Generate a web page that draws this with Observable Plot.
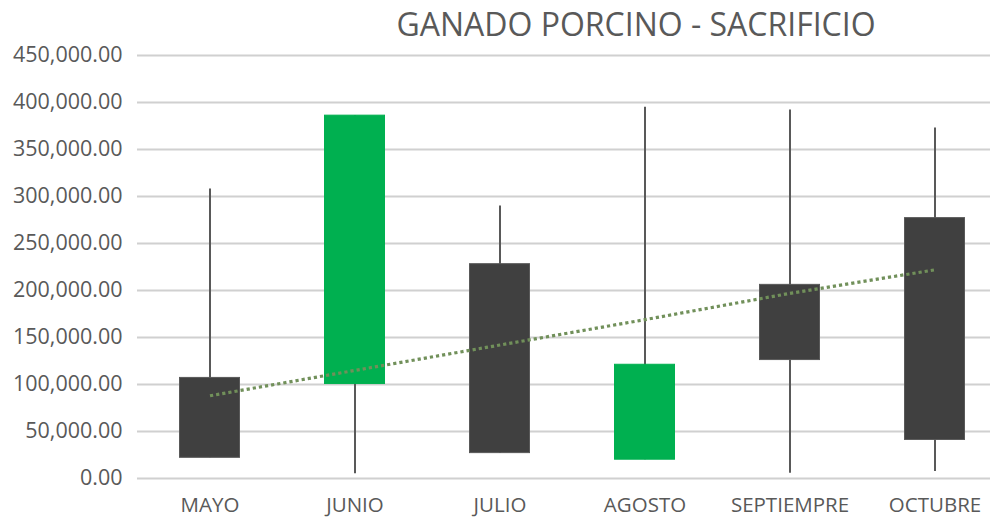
<!DOCTYPE html>
<html>
<head>
<meta charset="utf-8">
<script src="https://cdn.jsdelivr.net/npm/d3@7"></script>
<script src="https://cdn.jsdelivr.net/npm/@observablehq/plot@0.6"></script>
<style>
  html, body { margin: 0; padding: 0; background: #fff; overflow: hidden; }
  #title { width: 992px; height: 40px; box-sizing: border-box; padding-left: 280px; padding-top: 8px;
           text-align: center; font-family: "Open Sans", sans-serif; font-size: 32px; line-height: 1; color: #595959; white-space: nowrap; }
  #chart svg { display: block; }
</style>
</head>
<body>
<div id="title">GANADO PORCINO - SACRIFICIO</div>
<div id="chart"></div>
<script>
const months = ["MAYO", "JUNIO", "JULIO", "AGOSTO", "SEPTIEMPRE", "OCTUBRE"];
const openV  = [107000, 100500, 228000, 20000, 206000, 277000];
const closeV = [22000, 386000, 27000, 121000, 126000, 41000];
const highV  = [308000, 386000, 290000, 395000, 392000, 373000];
const lowV   = [22000, 5000, 26500, 20000, 5500, 7500];
const trendV = [88000, 115000, 142000, 169000, 197000, 222000];
const yTicks = [0, 50000, 100000, 150000, 200000, 250000, 300000, 350000, 400000, 450000];

const data = months.map((m, i) => ({
  month: m, open: openV[i], close: closeV[i], high: highV[i], low: lowV[i], trend: trendV[i],
  up: closeV[i] > openV[i]
}));

const chart = Plot.plot({
  width: 992,
  height: 478,
  marginLeft: 137,
  marginRight: 2,
  marginTop: 15,
  marginBottom: 40,
  style: { fontFamily: "Open Sans, sans-serif", fontSize: "21px", color: "#595959" },
  x: { domain: months, range: [137, 1007], padding: 0, axis: null },
  y: { domain: [0, 450000], axis: null },
  marks: [
    Plot.ruleY(yTicks, { stroke: "#d0d0d0", strokeWidth: 2 }),
    Plot.ruleX(data, { x: "month", y1: "low", y2: "high", stroke: "#595959", strokeWidth: 2 }),
    Plot.barY(data, {
      x: "month", y1: "open", y2: "close", insetLeft: 42.5, insetRight: 42.5,
      fill: d => d.up ? "#00B050" : "#404040",
      stroke: d => d.up ? "#00B050" : "#595959", strokeWidth: 1
    }),
    Plot.line(data, {
      x: "month", y: "trend", stroke: "#71905a", strokeWidth: 3.2,
      strokeDasharray: "3.2,3", strokeLinecap: "butt"
    }),
    Plot.axisY(yTicks, {
      tickSize: 0, tickPadding: 15, tickFormat: d3.format(",.2f"), label: null,
      fill: "#595959", fontSize: 21.5
    }),
    Plot.axisX(months, {
      tickSize: 0, tickPadding: 19, label: null, fill: "#595959", fontSize: 20.5
    })
  ]
});
document.getElementById("chart").appendChild(chart);
</script>
</body>
</html>
